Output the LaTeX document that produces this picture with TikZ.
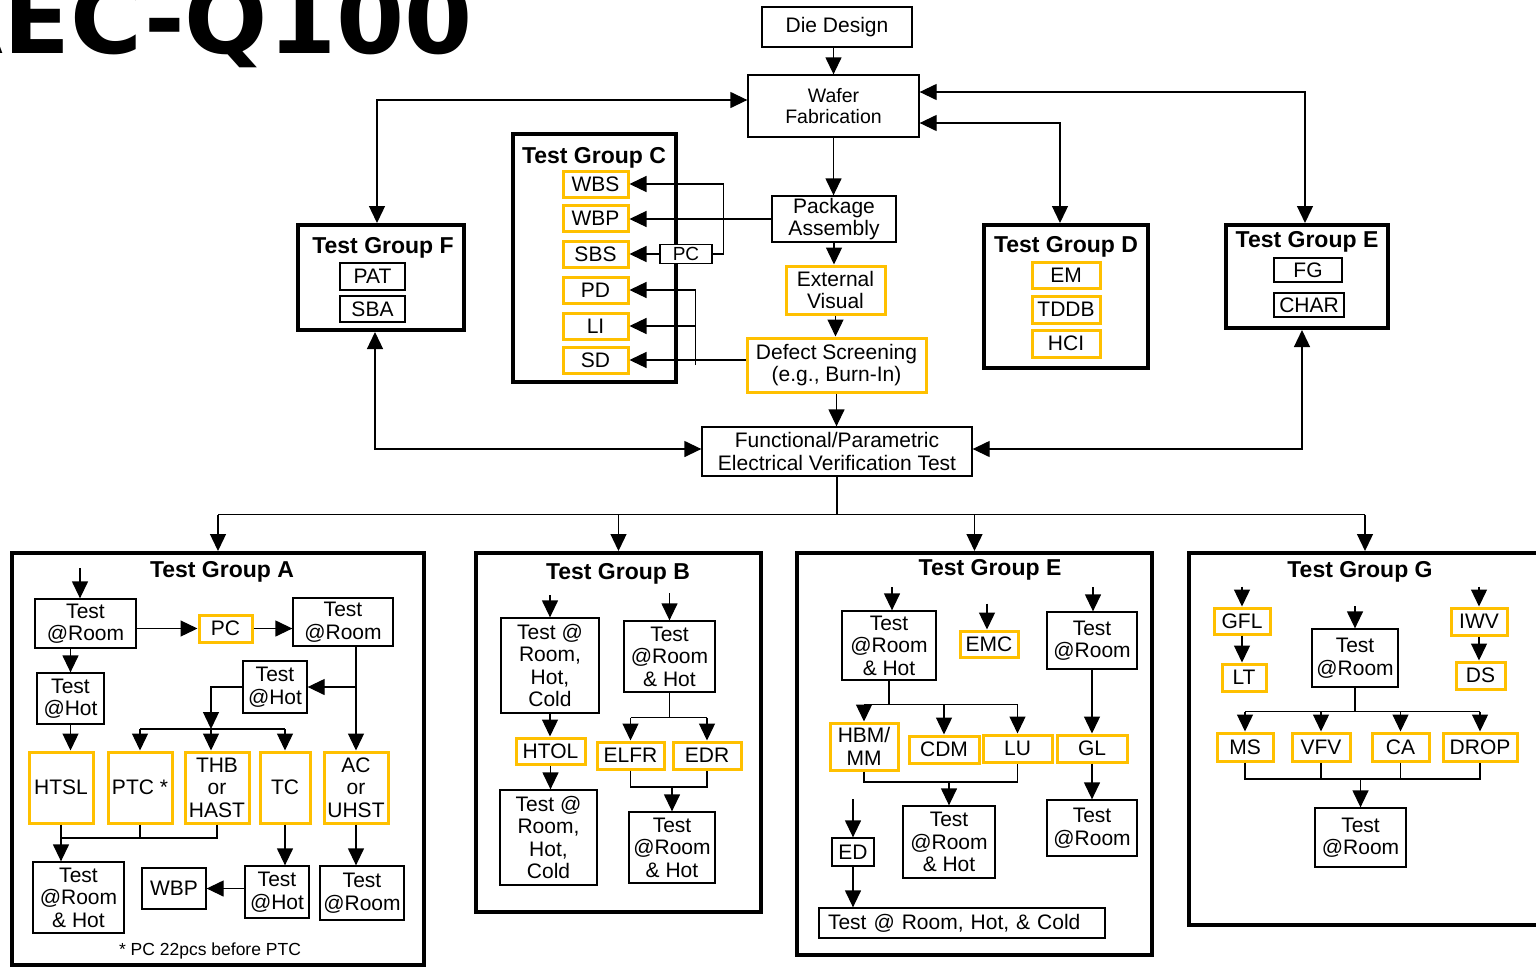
\documentclass[tikz,border=0pt]{standalone}
\usepackage{fontspec}
\setmainfont{Liberation Sans}
\newfontfamily\titlefont{DejaVu Sans}
\usetikzlibrary{arrows.meta,calc}
\definecolor{amber}{HTML}{FFC000}
\newcommand\mybox[6]{\node[#1,minimum width=#4pt,minimum height=#5pt] (#2) at (#3) {#6};}
\begin{document}
\begin{tikzpicture}[x=1pt,y=-1pt,
  every node/.style={inner sep=0pt, font=\fontsize{21}{22.5}\selectfont, align=center},
  bx/.style={draw=black, line width=1.3pt, fill=white},
  ob/.style={draw=amber, line width=3pt, fill=white},
  grp/.style={draw=black, line width=4pt},
  gtitle/.style={font=\fontsize{23}{25}\selectfont\bfseries},
  arr/.style={-{Triangle[length=17pt,width=16pt]}, line width=1.3pt},
  arrb/.style={{Triangle[length=17pt,width=16pt]}-{Triangle[length=17pt,width=16pt]}, line width=1.3pt},
  ln/.style={line width=1.3pt}]
\useasboundingbox (0,0) rectangle (1536,967);
\fill[white] (0,0) rectangle (1536,967);

% title
\node[font=\titlefont\fontsize{98}{98}\bfseries\selectfont, anchor=base east] (ttl) at (473,53) {AEC-Q100};

% top flow
\mybox{bx}{die}{837,27}{150}{40}{Die Design}
\mybox{bx,font=\fontsize{19.5}{21.5}\selectfont}{wafer}{833.5,106}{171}{62}{Wafer\\Fabrication}
\mybox{bx}{pkg}{834,219}{124}{46}{Package\\Assembly}
\mybox{ob}{ext}{835.5,290}{99}{48}{External\\Visual}
\mybox{ob}{defect}{836.5,365}{179}{54}{Defect Screening\\(e.g., Burn-In)}
\mybox{bx}{func}{837,451.5}{270}{49}{Functional/Parametric\\Electrical Verification Test}

% group F
\mybox{grp}{gF}{381,277.5}{166}{105}{}
\node[gtitle] (tF) at (383,248) {Test Group F};
\mybox{bx}{pat}{372.5,276.5}{65}{27}{PAT}
\mybox{bx}{sba}{372.5,309}{65}{26}{SBA}

% group C
\mybox{grp}{gC}{594.5,258}{163}{248}{}
\node[gtitle] (tC) at (594,158) {Test Group C};
\mybox{ob}{wbs}{595.5,184}{65}{26}{WBS}
\mybox{ob}{wbp}{595.5,218}{65}{26}{WBP}
\mybox{ob}{sbs}{595.5,254}{65}{26}{SBS}
\mybox{ob}{pd}{595.5,290}{65}{26}{PD}
\mybox{ob}{li}{595.5,326}{65}{26}{LI}
\mybox{ob}{sd}{595.5,360}{65}{26}{SD}
\mybox{bx,font=\fontsize{19}{21}\selectfont}{pc}{686,254}{52}{19}{PC}

% group D
\mybox{grp}{gD}{1066,296.5}{164}{143}{}
\node[gtitle] (tD) at (1066,247) {Test Group D};
\mybox{ob}{em}{1066,275}{68}{26}{EM}
\mybox{ob}{tddb}{1066,309.5}{68}{27}{TDDB}
\mybox{ob}{hci}{1066,343.5}{68}{27}{HCI}

% group E (top)
\mybox{grp}{gEt}{1307,276.5}{162}{103}{}
\node[gtitle] (tEt) at (1307,242) {Test Group E};
\mybox{bx}{fg}{1308,270}{68}{24}{FG}
\mybox{bx}{char}{1309,305}{70}{24}{CHAR}

% top connectors
\draw[arr] (die.south -| wafer.north) -- (wafer.north);
\draw[arr] (wafer.south) -- (wafer.south |- pkg.north);
\draw[arr] (pkg.south) -- (pkg.south |- ext.north);
\draw[arr] (ext.south) -- (ext.south |- defect.north);
\draw[arr] (defect.south) -- (defect.south |- func.north);
\draw[arrb] ($(gF.north)+(-4,0)$) |- ($(wafer.west)+(0,-6)$);
\draw[arrb] ($(gF.south)+(-6,0)$) |- ($(func.west)+(0,-2.5)$);
\draw[arrb] ($(wafer.east)+(0,-14)$) -| ($(gEt.north)+(-2,0)$);
\draw[arrb] ($(wafer.east)+(0,17)$) -| ($(gD.north)+(-6,0)$);
\draw[arrb] ($(gEt.south)+(-5,0)$) |- ($(func.east)+(0,-2.5)$);
\draw[arr] (pkg.west) -- (pkg.west -| wbp.east);
\coordinate (cj) at ($(pkg.west)+(-48,0)$);
\draw[arr] (cj) |- (wbs.east);
\draw[ln] (cj) |- (pc.east);
\draw[arr] (pc.west) -- (pc.west -| sbs.east);
\coordinate (dj) at ($(defect.west)+(-50,0)$);
\draw[arr] (defect.west |- sd.east) -- (sd.east);
\draw[arr] (dj |- sd.east) |- (pd.east);
\draw[arr] (dj) |- (li.east);

% bottom groups
\mybox{grp}{gA}{218,759}{412}{412}{}
\mybox{grp}{gB}{618.5,732.5}{285}{359}{}
\mybox{grp}{gEb}{974.5,754}{355}{402}{}
\mybox{grp}{gG}{1365,739}{352}{372}{}
\coordinate (bus) at ($(func.south)+(0,38)$);
\draw[ln] (func.south) -- (bus);
\draw[ln] (gA.north |- bus) -- (gG.north |- bus);
\draw[arr] (gA.north |- bus) -- (gA.north);
\draw[arr] (gB.north |- bus) -- (gB.north);
\draw[arr] (gEb.north |- bus) -- (gEb.north);
\draw[arr] (gG.north |- bus) -- (gG.north);

% group A
\node[gtitle] (tA) at (222,572) {Test Group A};
\mybox{bx}{ar1}{85.5,623.5}{101}{49}{Test\\@Room}
\mybox{ob}{apc}{225.5,628.5}{53}{27}{PC}
\mybox{bx}{ar2}{343,622}{100}{48}{Test\\@Room}
\mybox{bx}{ah1}{70.5,698.5}{67}{51}{Test\\@Hot}
\mybox{bx}{ah2}{275,687}{64}{52}{Test\\@Hot}
\mybox{ob}{htsl}{61,787.5}{64}{71}{HTSL}
\mybox{ob}{ptc}{140,787.5}{64}{71}{PTC *}
\mybox{ob}{thb}{217,787.5}{64}{71}{THB\\or\\HAST}
\mybox{ob}{tc}{285,787.5}{50}{71}{TC}
\mybox{ob}{ac}{356,787.5}{64}{71}{AC\\or\\UHST}
\mybox{bx}{arh}{78.5,897.5}{91}{71}{Test\\@Room\\\& Hot}
\mybox{bx}{awbp}{174,888.5}{64}{41}{WBP}
\mybox{bx}{ah3}{277,892}{64}{52}{Test\\@Hot}
\mybox{bx}{ar3}{362,893}{84}{54}{Test\\@Room}
\node[font=\fontsize{17.5}{20}\selectfont] (fn) at (210,951) {* PC 22pcs before PTC};
\draw[arr] ($(ar1.north)+(-5.5,-30)$) -- ($(ar1.north)+(-5.5,0)$);
\draw[arr] (ar1.east |- apc.west) -- (apc.west);
\draw[arr] (apc.east) -- (apc.east -| ar2.west);
\draw[arr] (ah1.north |- ar1.south) -- (ah1.north);
\draw[arr] (ah1.south) -- (ah1.south |- htsl.north);
\draw[arr] (ac.north |- ar2.south) -- (ac.north);
\draw[arr] (ac.north |- ah2.east) -- (ah2.east);
\coordinate (abus) at (211,729);
\draw[arr] (ah2.west) -| (abus);
\draw[ln] (ptc.north |- abus) -- (tc.north |- abus);
\draw[arr] (ptc.north |- abus) -- (ptc.north);
\draw[arr] (abus) -- (abus |- thb.north);
\draw[arr] (tc.north |- abus) -- (tc.north);
\coordinate (abot) at (0,838);
\draw[ln] (ptc.south) -- (ptc.south |- abot);
\draw[ln] (thb.south) -- (thb.south |- abot) -- (htsl.south |- abot);
\draw[arr] (htsl.south) -- (htsl.south |- arh.north);
\draw[arr] (tc.south) -- (tc.south |- ah3.north);
\draw[arr] (ah3.west |- awbp.east) -- (awbp.east);
\draw[arr] (ac.south) -- (ac.south |- ar3.north);

% group B
\node[gtitle] (tB) at (618,574) {Test Group B};
\mybox{bx}{b1}{550,665.5}{98}{95}{Test @\\Room,\\Hot,\\Cold}
\mybox{ob}{htol}{550.5,751}{69}{26}{HTOL}
\mybox{bx}{b2}{548.5,837.5}{97}{95}{Test @\\Room,\\Hot,\\Cold}
\mybox{bx}{b3}{669.5,656.5}{91}{71}{Test\\@Room\\\& Hot}
\mybox{ob}{elfr}{630.5,755.5}{67}{27}{ELFR}
\mybox{ob}{edr}{707,755.5}{68}{27}{EDR}
\mybox{bx}{b4}{672,847.5}{86}{71}{Test\\@Room\\\& Hot}
\draw[arr] ($(b1.north)+(0,-22)$) -- (b1.north);
\draw[arr] (b1.south) -- (b1.south |- htol.north);
\draw[arr] (htol.south) -- (htol.south |- b2.north);
\draw[arr] ($(b3.north)+(0,-27)$) -- (b3.north);
\coordinate (bbus) at ($(b3.south)+(0,25)$);
\draw[ln] (b3.south) -- (bbus);
\draw[ln] (elfr.north |- bbus) -- (edr.north |- bbus);
\draw[arr] (elfr.north |- bbus) -- (elfr.north);
\draw[arr] (edr.north |- bbus) -- (edr.north);
\coordinate (bbot) at (0,787);
\draw[ln] (elfr.south) -- (elfr.south |- bbot) -- (edr.south |- bbot) -- (edr.south);
\draw[arr] (b4.north |- bbot) -- (b4.north);

% group E (bottom)
\node[gtitle] (tEb) at (990,570) {Test Group E};
\mybox{bx}{e1}{889,645.5}{94}{69}{Test\\@Room\\\& Hot}
\mybox{ob}{emc}{989,644}{58}{26}{EMC}
\mybox{bx}{e2}{1092,640.5}{90}{57}{Test\\@Room}
\mybox{ob}{hbm}{864,746.5}{68}{47}{HBM/\\MM}
\mybox{ob}{cdm}{944,749.5}{70}{27}{CDM}
\mybox{ob}{lu}{1017.5,748.5}{69}{27}{LU}
\mybox{ob}{gl}{1092,748.5}{70}{27}{GL}
\mybox{bx}{e3}{1092,828}{90}{56}{Test\\@Room}
\mybox{bx}{e4}{949,842}{92}{72}{Test\\@Room\\\& Hot}
\mybox{bx}{ed}{853,852}{42}{28}{ED}
\mybox{bx,text width=268pt,align=left}{e5}{962,923}{286}{30}{Test @ Room, Hot, \& Cold}
\draw[arr] ($(e1.north)+(3,-23)$) -- ($(e1.north)+(3,0)$);
\draw[arr] ($(emc.north)+(-2,-26)$) -- ($(emc.north)+(-2,0)$);
\draw[arr] ($(e2.north)+(1,-24)$) -- ($(e2.north)+(1,0)$);
\coordinate (ebus) at ($(e1.south)+(0,24)$);
\draw[ln] (e1.south) -- (ebus);
\draw[ln] (hbm.north |- ebus) -- (lu.north |- ebus);
\draw[arr] (hbm.north |- ebus) -- (hbm.north);
\draw[arr] (cdm.north |- ebus) -- (cdm.north);
\draw[arr] (lu.north |- ebus) -- (lu.north);
\draw[arr] (e2.south) -- (e2.south |- gl.north);
\draw[arr] (gl.south) -- (gl.south |- e3.north);
\coordinate (ebot) at (0,782);
\draw[ln] (hbm.south) -- (hbm.south |- ebot) -- (lu.south |- ebot) -- (lu.south);
\draw[arr] (e4.north |- ebot) -- (e4.north);
\draw[arr] ($(ed.north)+(0,-38)$) -- (ed.north);
\draw[arr] (ed.south) -- (ed.south |- e5.north);

% group G
\node[gtitle] (tG) at (1360,572) {Test Group G};
\mybox{ob}{gfl}{1242,621}{56}{26}{GFL}
\mybox{ob}{lt}{1244,677.5}{44}{27}{LT}
\mybox{bx}{g1}{1355,658}{86}{58}{Test\\@Room}
\mybox{ob}{iwv}{1479,621.5}{56}{27}{IWV}
\mybox{ob}{ds}{1480.5,675.5}{49}{27}{DS}
\mybox{ob}{ms}{1245,747}{56}{28}{MS}
\mybox{ob}{vfv}{1321,747}{58}{28}{VFV}
\mybox{ob}{ca}{1400.5,747}{57}{28}{CA}
\mybox{ob}{drop}{1480,747}{74}{28}{DROP}
\mybox{bx}{g2}{1360.5,837.5}{91}{59}{Test\\@Room}
\draw[arr] ($(gfl.north)+(0,-20)$) -- (gfl.north);
\draw[arr] (gfl.south) -- (gfl.south |- lt.north);
\draw[arr] ($(g1.north)+(0,-22)$) -- (g1.north);
\draw[arr] ($(iwv.north)+(0,-20)$) -- (iwv.north);
\draw[arr] (iwv.south) -- (iwv.south |- ds.north);
\coordinate (gbus) at ($(g1.south)+(0,24)$);
\draw[ln] (g1.south) -- (gbus);
\draw[ln] (ms.north |- gbus) -- (drop.north |- gbus);
\draw[arr] (ms.north |- gbus) -- (ms.north);
\draw[arr] (vfv.north |- gbus) -- (vfv.north);
\draw[arr] (ca.north |- gbus) -- (ca.north);
\draw[arr] (drop.north |- gbus) -- (drop.north);
\coordinate (gbot) at (0,779);
\draw[ln] (ms.south) -- (ms.south |- gbot) -- (drop.south |- gbot) -- (drop.south);
\draw[ln] (vfv.south) -- (vfv.south |- gbot);
\draw[ln] (ca.south) -- (ca.south |- gbot);
\draw[arr] (g2.north |- gbot) -- (g2.north);
\end{tikzpicture}
\end{document}
